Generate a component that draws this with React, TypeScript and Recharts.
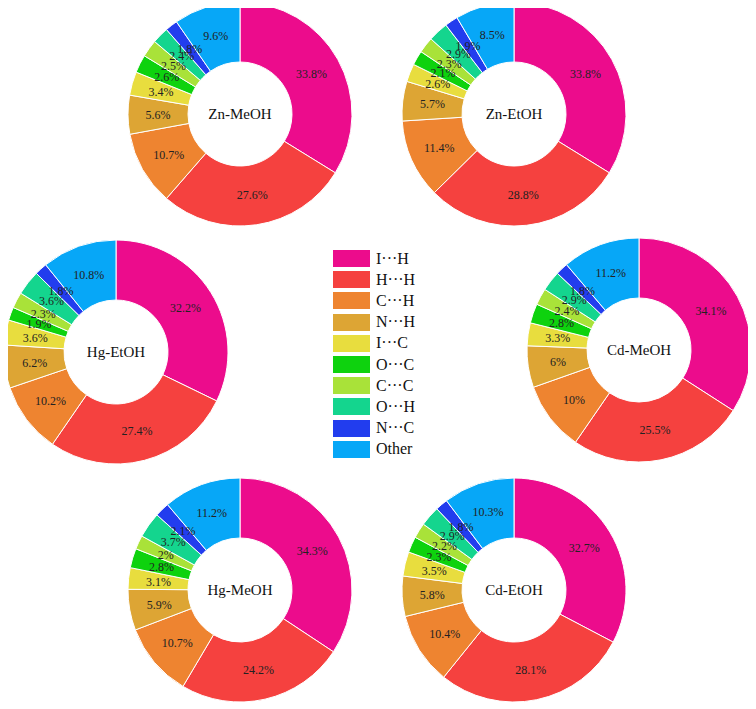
import { PieChart, Pie, Cell, Legend } from "recharts";

const contacts = ["I···H", "H···H", "C···H", "N···H", "I···C", "O···C", "C···C", "O···H", "N···C", "Other"];
const colors = ["#EC0C8C", "#F5413F", "#EE8430", "#DDA534", "#E8DD3E", "#0ED20E", "#A9E239", "#14D58E", "#223DEE", "#07A7F7"];

const znMeOH = [33.8, 27.6, 10.7, 5.6, 3.4, 2.6, 2.5, 2.4, 1.8, 9.6];
const znEtOH = [33.8, 28.8, 11.4, 5.7, 2.6, 2.1, 2.3, 2.9, 1.9, 8.5];
const hgEtOH = [32.2, 27.4, 10.2, 6.2, 3.6, 1.9, 2.3, 3.6, 1.8, 10.8];
const cdMeOH = [34.1, 25.5, 10, 6, 3.3, 2.8, 2.4, 2.9, 1.8, 11.2];
const hgMeOH = [34.3, 24.2, 10.7, 5.9, 3.1, 2.8, 2, 3.7, 2.1, 11.2];
const cdEtOH = [32.7, 28.1, 10.4, 5.8, 3.5, 2.3, 2.2, 2.9, 1.8, 10.3];

const samples = [
  { name: "Zn-MeOH", values: znMeOH, cx: 232, cy: 106 },
  { name: "Zn-EtOH", values: znEtOH, cx: 506, cy: 106 },
  { name: "Hg-EtOH", values: hgEtOH, cx: 108, cy: 344 },
  { name: "Cd-MeOH", values: cdMeOH, cx: 631, cy: 342 },
  { name: "Hg-MeOH", values: hgMeOH, cx: 232, cy: 582 },
  { name: "Cd-EtOH", values: cdEtOH, cx: 506, cy: 582 },
];

const FONT = "'Liberation Serif', 'Times New Roman', serif";
const RADIAN = Math.PI / 180;

// slice labels at mid radius; the first slice also carries the donut's name in the hole
const makeLabel = (title: string) => (props: any) => {
  const { cx, cy, midAngle, innerRadius, outerRadius, value, index } = props;
  const r = (innerRadius + outerRadius) / 2;
  const x = cx + r * Math.cos(-midAngle * RADIAN);
  const y = cy + r * Math.sin(-midAngle * RADIAN);
  return (
    <g>
      <text
        x={x}
        y={y}
        textAnchor="middle"
        dominantBaseline="central"
        style={{ fontFamily: FONT, fontSize: 12, fill: "#222" }}
      >
        {value}%
      </text>
      {index === 0 && (
        <text
          x={cx}
          y={cy}
          textAnchor="middle"
          dominantBaseline="central"
          style={{ fontFamily: FONT, fontSize: 15, fill: "#111" }}
        >
          {title}
        </text>
      )}
    </g>
  );
};

const renderLegend = () => (
  <div style={{ fontFamily: FONT, fontSize: 16, color: "#111" }}>
    {contacts.map((c, i) => (
      <div
        key={c}
        style={{ display: "flex", alignItems: "center", height: 21.2 }}
      >
        <span
          style={{
            display: "inline-block",
            width: 37,
            height: 17,
            background: colors[i],
            marginRight: 6,
          }}
        />
        <span>{c}</span>
      </div>
    ))}
  </div>
);

export default function App() {
  return (
    <PieChart width={748} height={700} margin={{ top: 0, right: 0, bottom: 0, left: 0 }}>
      {samples.map((s) => (
        <Pie
          key={s.name}
          data={s.values.map((v, i) => ({ name: contacts[i], value: v }))}
          dataKey="value"
          cx={s.cx}
          cy={s.cy}
          innerRadius={52}
          outerRadius={112}
          startAngle={90}
          endAngle={-270}
          stroke="#fff"
          strokeWidth={1}
          label={makeLabel(s.name)}
          labelLine={false}
          isAnimationActive={false}
        >
          {s.values.map((_, i) => (
            <Cell key={i} fill={colors[i]} />
          ))}
        </Pie>
      ))}
      <Legend
        content={renderLegend}
        wrapperStyle={{ position: "absolute", left: 325, top: 240, width: 100 }}
      />
    </PieChart>
  );
}
